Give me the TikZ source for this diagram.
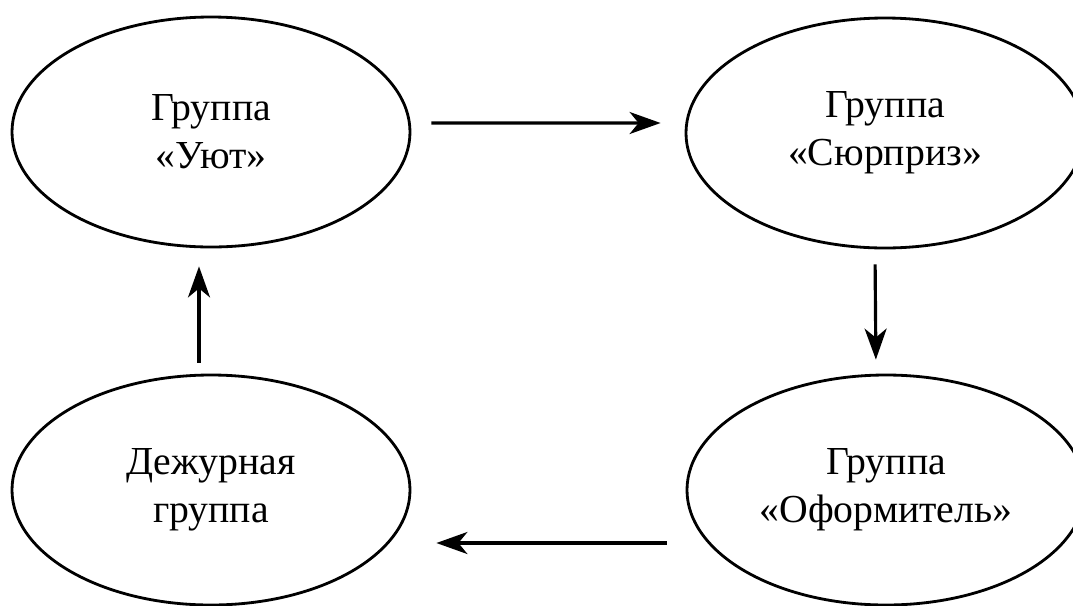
\documentclass[tikz,border=0pt]{standalone}
\usepackage{fontspec}
\setmainfont{Liberation Serif}
\usetikzlibrary{shapes.geometric,arrows.meta}
\tikzset{
	grp/.style={draw, ellipse, line width=0.8pt, minimum width=3.98cm, minimum height=2.30cm, inner sep=0pt, align=center, font=\fontsize{11.3}{13.6}\selectfont},
	arr/.style={line width=0.9pt, -{Stealth[length=3.1mm, width=2.2mm, inset=0.9mm]}}
}
\begin{document}
\begin{tikzpicture}
			\useasboundingbox (0,0) rectangle (10.73,6.05);
			\clip (0,0) rectangle (10.73,6.05);
			\node[grp] (uyut) at (2.11,4.73) {Группа\\«Уют»};
			\node[grp] (surpriz) at (8.85,4.72) {Группа\\«Сюрприз»};
			\node[grp] (oform) at (8.86,1.15) {Группа\\«Оформитель»};
			\node[grp] (dezhur) at (2.11,1.15) {Дежурная\\группа};
			\draw[arr, shorten <=2mm, shorten >=2.4mm] ([yshift=0.9mm]uyut.east) -- ([yshift=1mm]surpriz.west);
			\draw[arr, shorten <=1.5mm, shorten >=1.4mm] ([xshift=-1mm]surpriz.south) -- ([xshift=-1mm]oform.north);
			\draw[arr, shorten <=1.9mm, shorten >=2.5mm] ([yshift=-5.3mm]oform.west) -- ([yshift=-5.3mm]dezhur.east);
			\draw[arr, shorten <=1.1mm, shorten >=1.8mm] ([xshift=-1.2mm]dezhur.north) -- ([xshift=-1.2mm]uyut.south);
		\end{tikzpicture}
\end{document}
